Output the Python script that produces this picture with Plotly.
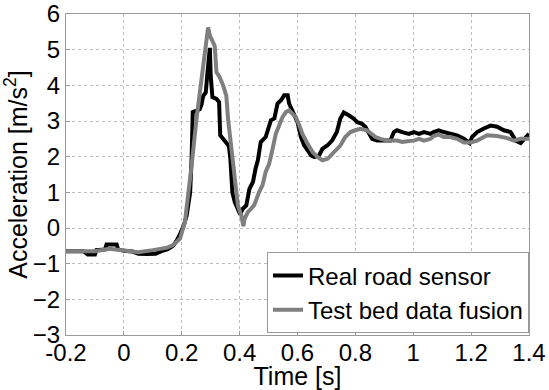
import plotly.graph_objects as go

# Real road sensor (black)
t_real = [-0.2, -0.14, -0.125, -0.10, -0.095, -0.065, -0.06, -0.025, -0.02, 0.0, 0.03, 0.05, 0.08, 0.11,
          0.13, 0.15, 0.17, 0.183, 0.195, 0.206, 0.217, 0.229, 0.234, 0.238, 0.262, 0.268, 0.274, 0.283,
          0.288, 0.295, 0.297, 0.300, 0.303, 0.306, 0.32, 0.329, 0.333, 0.343, 0.354, 0.363, 0.368, 0.375,
          0.383, 0.394, 0.402, 0.411, 0.423, 0.434, 0.446, 0.455, 0.463, 0.473, 0.49, 0.508, 0.52, 0.531,
          0.543, 0.554, 0.566, 0.571, 0.583, 0.589, 0.6, 0.612, 0.623, 0.635, 0.646, 0.658, 0.675, 0.686,
          0.704, 0.72, 0.736, 0.748, 0.76, 0.777, 0.794, 0.806, 0.823, 0.835, 0.846, 0.858, 0.875, 0.921,
          0.933, 0.944, 0.962, 0.985, 1.002, 1.02, 1.037, 1.06, 1.07, 1.088, 1.105, 1.128, 1.151, 1.175,
          1.195, 1.203, 1.221, 1.244, 1.267, 1.29, 1.313, 1.336, 1.354, 1.371, 1.383, 1.4]
a_real = [-0.65, -0.65, -0.74, -0.74, -0.62, -0.6, -0.46, -0.46, -0.6, -0.64, -0.66, -0.72, -0.73, -0.72,
          -0.65, -0.6, -0.5, -0.35, -0.15, 0.05, 0.35, 1.0, 1.94, 3.25, 3.33, 3.45, 3.7, 3.8,
          4.27, 4.95, 5.05, 4.27, 3.8, 3.67, 3.62, 3.53, 2.6, 2.5, 2.4, 2.3, 1.94, 1.0,
          0.73, 0.5, 0.38, 0.54, 0.63, 1.1, 1.29, 1.66, 1.9, 2.41, 2.55, 3.02, 3.07, 3.49,
          3.58, 3.72, 3.72, 3.49, 3.25, 3.16, 2.97, 2.55, 2.32, 2.18, 2.04, 1.99, 2.04, 2.22,
          2.32, 2.46, 2.69, 3.07, 3.24, 3.16, 3.07, 2.97, 2.92, 2.83, 2.69, 2.5, 2.45, 2.45,
          2.69, 2.74, 2.69, 2.64, 2.69, 2.64, 2.69, 2.64, 2.69, 2.74, 2.69, 2.64, 2.6, 2.5,
          2.38, 2.55, 2.69, 2.79, 2.87, 2.84, 2.74, 2.69, 2.45, 2.38, 2.5, 2.64]

# Test bed data fusion (gray)
t_bed = [-0.2, -0.1, -0.05, 0.0, 0.05, 0.1, 0.15, 0.17, 0.183, 0.194, 0.211, 0.223, 0.234, 0.251, 0.269,
         0.28, 0.291, 0.297, 0.309, 0.314, 0.32, 0.331, 0.343, 0.354, 0.36, 0.371, 0.383, 0.394, 0.406,
         0.413, 0.417, 0.429, 0.44, 0.451, 0.467, 0.479, 0.49, 0.502, 0.514, 0.525, 0.537, 0.548, 0.56,
         0.571, 0.583, 0.594, 0.606, 0.617, 0.635, 0.652, 0.669, 0.686, 0.704, 0.72, 0.738, 0.748, 0.765,
         0.783, 0.8, 0.817, 0.84, 0.858, 0.87, 0.887, 0.91, 0.944, 0.962, 0.979, 1.002, 1.02, 1.037,
         1.06, 1.07, 1.088, 1.105, 1.128, 1.151, 1.175, 1.198, 1.221, 1.255, 1.29, 1.325, 1.348, 1.371, 1.4]
a_bed = [-0.65, -0.65, -0.58, -0.63, -0.68, -0.62, -0.55, -0.48, -0.4, -0.3, 0.17, 0.91, 1.75, 3.06, 4.27,
         5.02, 5.62, 5.4, 5.2, 5.1, 4.37, 4.23, 4.0, 3.71, 3.06, 2.22, 1.29, 0.63, 0.35,
         0.05, 0.26, 0.45, 0.54, 0.65, 1.0, 1.2, 1.57, 1.8, 2.22, 2.64, 2.88, 3.11, 3.25,
         3.3, 3.2, 3.11, 2.88, 2.64, 2.36, 2.13, 1.99, 1.9, 1.94, 2.08, 2.22, 2.31, 2.55,
         2.69, 2.74, 2.78, 2.74, 2.64, 2.55, 2.5, 2.45, 2.45, 2.41, 2.43, 2.45, 2.5, 2.45,
         2.5, 2.58, 2.62, 2.55, 2.55, 2.5, 2.4, 2.4, 2.45, 2.6, 2.58, 2.52, 2.45, 2.5, 2.5]

x_ticks = [-0.2, 0, 0.2, 0.4, 0.6, 0.8, 1.0, 1.2, 1.4]
x_ticktext = ["-0.2", "0", "0.2", "0.4", "0.6", "0.8", "1", "1.2", "1.4"]
y_ticks = [-3, -2, -1, 0, 1, 2, 3, 4, 5, 6]

FONT = "Liberation Sans, Arial, sans-serif"
AXIS_GRAY = "#9a9a9a"
GRID_GRAY = "#bdbdbd"

fig = go.Figure()
fig.add_trace(go.Scatter(x=t_real, y=a_real, mode="lines", name="Real road sensor",
                         line=dict(color="black", width=4)))
fig.add_trace(go.Scatter(x=t_bed, y=a_bed, mode="lines", name="Test bed data fusion",
                         line=dict(color="#7f7f7f", width=4)))

axis_common = dict(
    showline=True, linecolor=AXIS_GRAY, linewidth=1, mirror=True,
    showgrid=True, gridcolor=GRID_GRAY, griddash="dot", gridwidth=1,
    zeroline=False, ticks="inside", ticklen=4, tickcolor=AXIS_GRAY,
    tickfont=dict(family=FONT, size=24, color="black"),
    automargin=False,
)

fig.update_xaxes(range=[-0.2, 1.4], tickvals=x_ticks, ticktext=x_ticktext,
                 title=dict(text="Time [s]", font=dict(family=FONT, size=25, color="black"), standoff=0),
                 ticklabelstandoff=-4, **axis_common)
fig.update_yaxes(range=[-3, 6], tickvals=y_ticks,
                 title=dict(text="Acceleration [m/s<sup>2</sup>]", font=dict(family=FONT, size=25, color="black"), standoff=2),
                 ticklabelstandoff=0, **axis_common)

fig.update_layout(
    width=549, height=390,
    margin=dict(l=66, r=20, t=14, b=55),
    paper_bgcolor="white", plot_bgcolor="white",
    font=dict(family=FONT, color="black"),
    showlegend=True,
    legend=dict(x=1, y=0.005, xanchor="right", yanchor="bottom",
                bgcolor="white", bordercolor=AXIS_GRAY, borderwidth=1,
                font=dict(family=FONT, size=24, color="black"),
                tracegroupgap=0, itemwidth=30),
)

fig.write_html("out.html")
